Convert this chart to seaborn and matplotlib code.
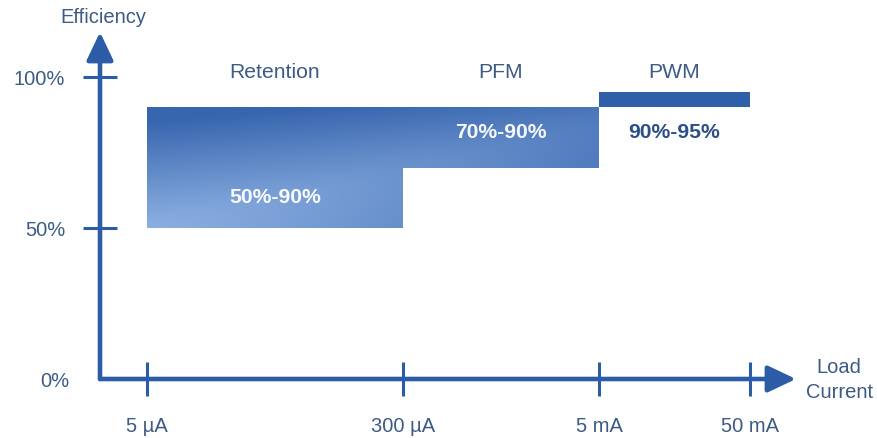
import numpy as np
import matplotlib
matplotlib.use("Agg")
import matplotlib.pyplot as plt
import seaborn as sns

# data
current_labels = ["5 µA", "300 µA", "5 mA", "50 mA"]
current_pos = [0.47, 3.03, 4.99, 6.50]  # spacing along the load-current axis
modes = ["Retention", "PFM", "PWM"]
eff_low = [50, 70, 90]
eff_high = [90, 90, 95]
mode_start = [0, 1, 2]  # index into current_pos
mode_end = [1, 2, 3]
eff_ticks = [50, 100]
eff_tick_labels = ["50%", "100%"]

sns.set_theme(style="white")
plt.rcParams["font.family"] = ["Liberation Sans", "DejaVu Sans"]

AXIS = "#2d5ca6"
TEXT = "#3d5b85"
FS = 14.5

fig = plt.figure(figsize=(8.78, 4.39), dpi=100)
ax = fig.add_axes([100 / 878, 59 / 439, 696 / 878, 347 / 439])
ax.set_xlim(0, 6.96)
ax.set_ylim(0, 114.9)
sns.despine(ax=ax, left=True, bottom=True, top=True, right=True)

# gradient region (Retention + PFM)
xs, ys = [], []
for i in range(2):
    x0, x1 = current_pos[mode_start[i]], current_pos[mode_end[i]]
    xs += [x0, x1]
    ys += [eff_low[i], eff_low[i]]
poly_x = xs + [current_pos[mode_end[1]], current_pos[mode_start[0]]]
poly_y = ys + [eff_high[1], eff_high[0]]
patch = ax.fill(poly_x, poly_y, facecolor="none", edgecolor="none")[0]

gx0, gx1 = current_pos[mode_start[0]], current_pos[mode_end[1]]
gy0, gy1 = min(eff_low[:2]), max(eff_high[:2])
nx, ny = 300, 200
xx, yy = np.meshgrid(np.linspace(0, 1, nx), np.linspace(0, 1, ny))
ridge = np.sqrt((yy - 0.88 * xx) ** 2 + 0.01)
t = np.clip(0.7 * ridge + 0.5 * yy + 0.25 * xx - 0.07, 0, 1)
light = np.array([138, 174, 224]) / 255
dark = np.array([55, 101, 174]) / 255
img = light[None, None, :] * (1 - t[..., None]) + dark[None, None, :] * t[..., None]
im = ax.imshow(img, extent=[gx0, gx1, gy0, gy1], origin="lower", aspect="auto",
               interpolation="bilinear", zorder=1)
im.set_clip_path(patch)

# PWM bar
ax.fill_between([current_pos[mode_start[2]], current_pos[mode_end[2]]],
                eff_low[2], eff_high[2], color="#2f5fa8", lw=0, zorder=1)

# mode names and ranges
for i, name in enumerate(modes):
    xc = (current_pos[mode_start[i]] + current_pos[mode_end[i]]) / 2
    ax.text(xc, 101.8, name, ha="center", va="center", fontsize=15.2, color=TEXT)
ax.text((current_pos[0] + current_pos[1]) / 2, 60.5,
        f"{eff_low[0]}%-{eff_high[0]}%", ha="center", va="center",
        fontsize=15.2, fontweight="bold", color="white", alpha=0.95, zorder=3)
ax.text((current_pos[1] + current_pos[2]) / 2, 82,
        f"{eff_low[1]}%-{eff_high[1]}%", ha="center", va="center",
        fontsize=15.2, fontweight="bold", color="white", alpha=0.95, zorder=3)
ax.text((current_pos[2] + current_pos[3]) / 2, 82,
        f"{eff_low[2]}%-{eff_high[2]}%", ha="center", va="center",
        fontsize=15.2, fontweight="bold", color="#2b4f86", zorder=3)

# arrow axes
arrow = dict(arrowstyle="-|>,head_length=0.95,head_width=0.45", color=AXIS,
             lw=3.3, shrinkA=0, shrinkB=0, mutation_scale=18)
ax.annotate("", xy=(1, 0), xytext=(0, 0), xycoords="axes fraction",
            arrowprops=arrow, annotation_clip=False)
ax.annotate("", xy=(0, 1), xytext=(0, 0), xycoords="axes fraction",
            arrowprops=arrow, annotation_clip=False)

# ticks
ax.set_xticks(current_pos)
ax.set_xticklabels(current_labels)
ax.set_yticks(eff_ticks)
ax.set_yticklabels(eff_tick_labels)
ax.set_yticks([0], minor=True)
ax.set_yticklabels(["0%"], minor=True)
ax.tick_params(axis="both", which="major", direction="inout", length=24,
               width=2.2, color=AXIS, labelsize=FS, labelcolor=TEXT)
ax.tick_params(axis="x", which="major", pad=15)
ax.tick_params(axis="y", which="major", pad=13)
ax.tick_params(axis="y", which="minor", length=0, pad=22, labelsize=FS,
               labelcolor=TEXT)
ax.tick_params(left=True, bottom=True)
ax.tick_params(axis="y", which="minor", left=True)

# axis titles
ax.text(0.005, 1.046, "Efficiency", transform=ax.transAxes, ha="center",
        va="center", fontsize=FS, color=TEXT)
ax.text(1.062, 0.0, "Load\nCurrent", transform=ax.transAxes, ha="center",
        va="center", fontsize=FS, color=TEXT, linespacing=1.35)

fig.savefig("out.png", dpi=100)
plt.close(fig)
